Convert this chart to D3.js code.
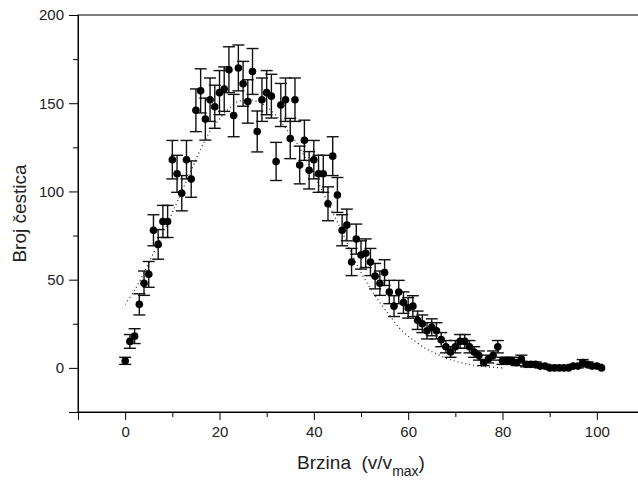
<!DOCTYPE html>
<html>
<head>
<meta charset="utf-8">
<script src="https://cdn.jsdelivr.net/npm/d3@7"></script>
<style>
    body { margin: 0; background: #fff; }
    text { font-family: 'Liberation Sans', Arial, sans-serif; fill: #222; }
</style>
</head>
<body>
<svg id="chart" width="638" height="485"></svg>
<script>
// measured counts per speed bin (x = 0..101)
const speeds = d3.range(0, 102);
const counts = [
    4, 15, 18, 36, 48, 53, 78, 70, 83, 83,
    118, 110, 99, 118, 107, 146, 157, 141, 152, 148,
    156, 158, 169, 143, 170, 161, 151, 168, 134, 152,
    156, 154, 117, 149, 152, 130, 152, 115, 129, 112,
    118, 110, 110, 93, 120, 98, 78, 81, 60, 73,
    64, 65, 60, 52, 48, 54, 43, 35, 43, 37,
    34, 35, 27, 25, 21, 23, 21, 16, 12, 9,
    12, 15, 15, 12, 9, 7, 3, 5, 7, 12,
    4, 4, 4, 3, 5, 2, 2, 2, 1, 1,
    0, 0, 0, 0, 0, 1, 1, 3, 2, 1,
    1, 0
];
const errors = [
    2, 3.9, 4.2, 6, 6.9, 7.3, 8.8, 8.4, 9.1, 9.1,
    10.9, 10.5, 10, 10.9, 10.3, 12.1, 12.5, 11.9, 12.3, 12.2,
    12.5, 12.6, 13, 12, 13, 12.7, 12.3, 13, 11.6, 12.3,
    12.5, 12.4, 10.8, 12.2, 12.3, 11.4, 12.3, 10.7, 11.4, 10.6,
    10.9, 10.5, 10.5, 9.6, 11, 9.9, 8.8, 9, 7.7, 8.5,
    8, 8.1, 7.7, 7.2, 6.9, 7.3, 6.6, 5.9, 6.6, 6.1,
    5.8, 5.9, 5.2, 5, 4.6, 4.8, 4.6, 4, 3.5, 3,
    3.5, 3.9, 3.9, 3.5, 3, 2.6, 1.7, 2.2, 2.6, 3.5,
    2, 2, 2, 1.7, 2.2, 1.4, 1.4, 1.4, 1, 1,
    0, 0, 0, 0, 0, 1, 1, 1.7, 1.4, 1,
    1, 0
];

// dotted fit curve
const fitX = [0, 2, 4, 6, 8, 10, 12, 14, 16, 18, 20, 22, 24, 26, 28, 30, 32, 34, 36, 38,
    40, 42, 44, 46, 48, 50, 52, 54, 56, 58, 60, 62, 64, 66, 68, 70, 72, 74, 76, 78, 80];
const fitY = [36, 44, 54, 65, 76, 88, 100, 112, 124, 134, 141, 147, 151, 152, 151, 148, 143, 136, 129, 120,
    110, 99, 88, 77, 65, 54, 45, 37, 30, 23, 18, 14, 10.5, 8, 5.5, 3.8, 2.5, 1.5, 0.8, 0.3, 0];

const xMajor = [0, 20, 40, 60, 80, 100];
const xMinor = [-10, 10, 30, 50, 70, 90, 110];
const yMajor = [0, 50, 100, 150, 200];
const yMinor = [-25, 25, 75, 125, 175];

const svg = d3.select('#chart');
const plotL = 78, plotR = 644, plotT = 15, plotB = 412;

const x = d3.scaleLinear().domain([-10, 110]).range([plotL, plotR]);
const y = d3.scaleLinear().domain([-25, 200]).range([plotB, plotT]);

// frame
svg.append('rect')
    .attr('x', plotL).attr('y', plotT)
    .attr('width', plotR - plotL).attr('height', plotB - plotT)
    .attr('fill', 'none').attr('stroke', '#000').attr('stroke-width', 1);

// axes
svg.append('g').attr('transform', `translate(0,${plotB})`)
    .call(d3.axisBottom(x).tickValues(xMajor).tickSize(8).tickPadding(6).tickFormat(d3.format('d')));
svg.append('g').attr('transform', `translate(0,${plotB})`)
    .call(d3.axisBottom(x).tickValues(xMinor).tickSize(5).tickFormat(''));
svg.append('g').attr('transform', `translate(${plotL},0)`)
    .call(d3.axisLeft(y).tickValues(yMajor).tickSize(9).tickPadding(5).tickFormat(d3.format('d')));
svg.append('g').attr('transform', `translate(${plotL},0)`)
    .call(d3.axisLeft(y).tickValues(yMinor).tickSize(5).tickFormat(''));

svg.selectAll('.domain').attr('stroke', '#000');
svg.selectAll('.tick line').attr('stroke', '#000');
svg.selectAll('.tick text').style('font-size', '15px').attr('fill', '#222');

// fit curve
const fitPts = fitX.map((d, i) => [d, fitY[i]]);
svg.append('path')
    .datum(fitPts)
    .attr('fill', 'none')
    .attr('stroke', '#222')
    .attr('stroke-width', 1.2)
    .attr('stroke-dasharray', '1,3')
    .attr('d', d3.line().x(d => x(d[0])).y(d => y(d[1])).curve(d3.curveCatmullRom));

// error bars + points
const pts = speeds.map((s, i) => ({ s: s, c: counts[i], e: errors[i] }));
const bars = svg.append('g').attr('class', 'errbars')
    .attr('stroke', '#111').attr('stroke-width', 1.4);
const withErr = pts.filter(d => d.e > 0);

bars.selectAll('.vbar').data(withErr).join('line')
    .attr('class', 'vbar')
    .attr('x1', d => x(d.s)).attr('x2', d => x(d.s))
    .attr('y1', d => y(d.c - d.e)).attr('y2', d => y(d.c + d.e));
bars.selectAll('.capTop').data(withErr).join('line')
    .attr('class', 'capTop')
    .attr('x1', d => x(d.s) - 6).attr('x2', d => x(d.s) + 6)
    .attr('y1', d => y(d.c + d.e)).attr('y2', d => y(d.c + d.e));
bars.selectAll('.capBot').data(withErr).join('line')
    .attr('class', 'capBot')
    .attr('x1', d => x(d.s) - 6).attr('x2', d => x(d.s) + 6)
    .attr('y1', d => y(d.c - d.e)).attr('y2', d => y(d.c - d.e));

svg.append('g').selectAll('circle').data(pts).join('circle')
    .attr('cx', d => x(d.s))
    .attr('cy', d => y(d.c))
    .attr('r', 3.8)
    .attr('fill', '#000');

// axis titles
svg.append('text')
    .attr('transform', `translate(26,${(plotT + plotB) / 2}) rotate(-90)`)
    .attr('text-anchor', 'middle')
    .style('font-size', '19px')
    .text('Broj čestica');

const xt = svg.append('text')
    .attr('x', 361).attr('y', 469)
    .attr('text-anchor', 'middle')
    .style('font-size', '19px');
xt.append('tspan').text('Brzina\u00a0\u00a0(v/v');
xt.append('tspan').attr('dy', 7).style('font-size', '14px').text('max');
xt.append('tspan').attr('dy', -7).text(')');
</script>
</body>
</html>
